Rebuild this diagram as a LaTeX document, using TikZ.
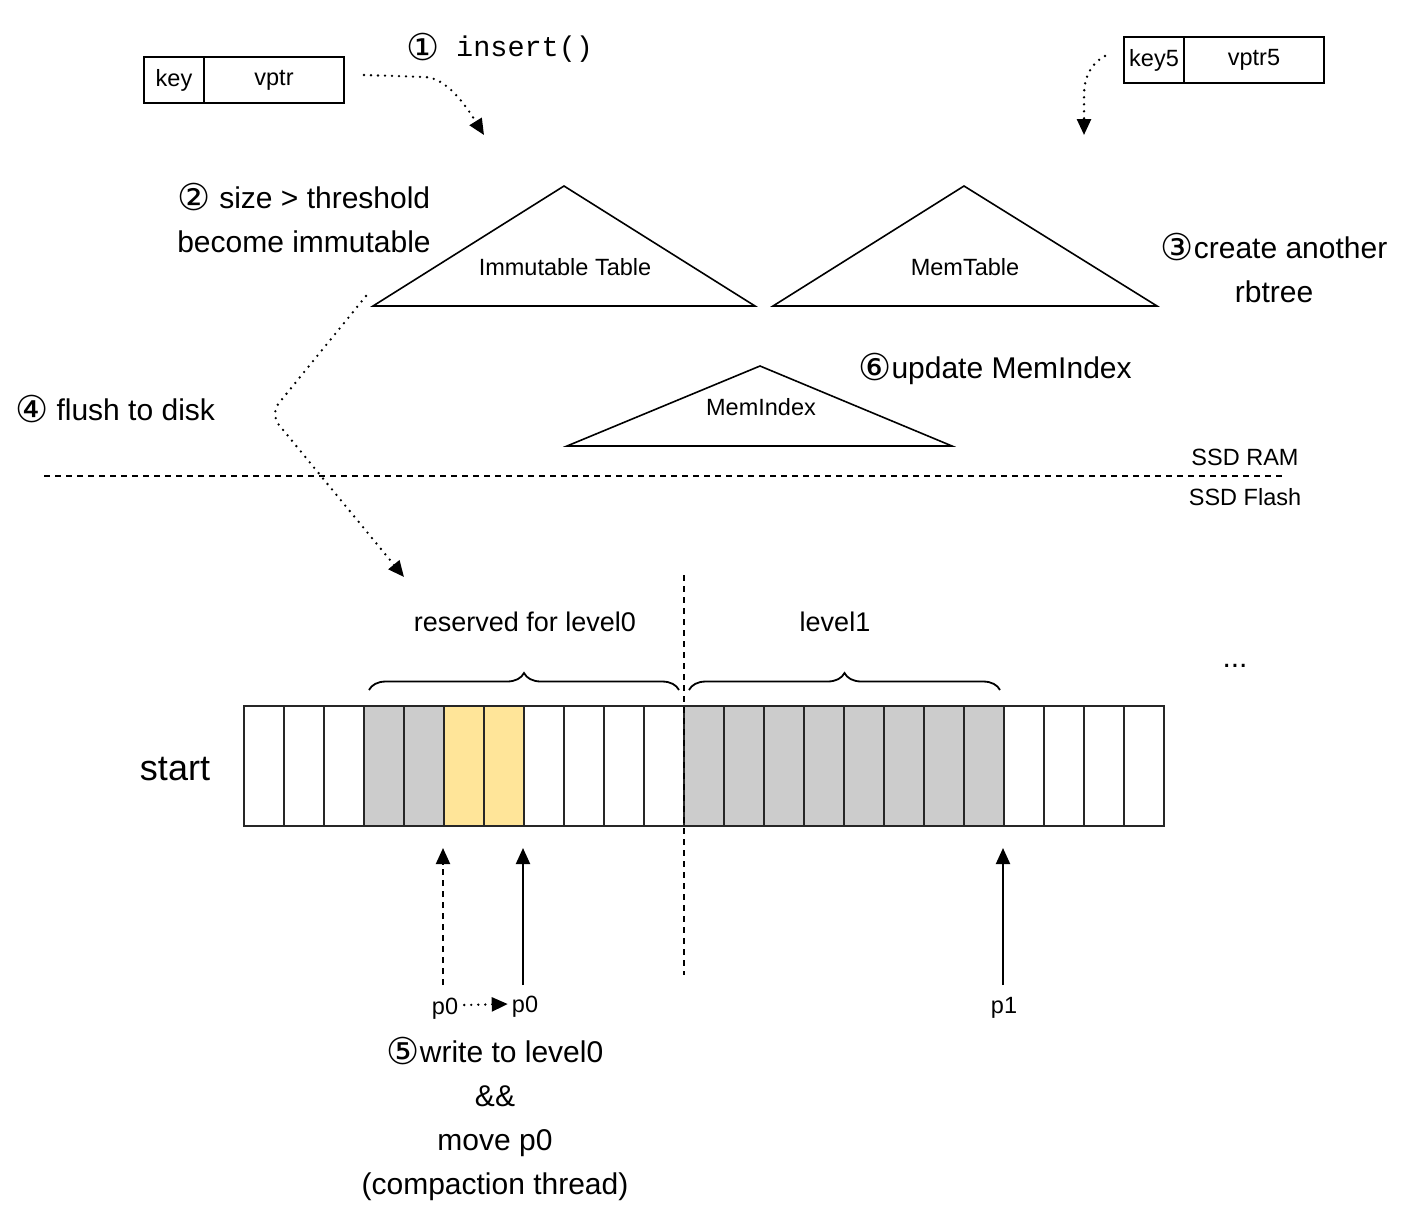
\documentclass[tikz,border=0pt]{standalone}
\usepackage{fontspec}
\setmainfont{Liberation Sans}
\setmonofont{Liberation Mono}
\newfontfamily\circfont{DejaVu Sans}
\newcommand\cnum[1]{{\circfont\fontsize{37}{44}\selectfont\raisebox{-0.06em}{#1}}}
\usetikzlibrary{arrows.meta,decorations.pathreplacing,calc}
\definecolor{cellgray}{HTML}{CCCCCC}
\definecolor{cellyellow}{HTML}{FFE599}
\begin{document}
\begin{tikzpicture}[x=1pt,y=-1pt,
  every node/.style={font=\fontsize{23.5}{28}\selectfont,inner sep=0pt},
  big/.style={font=\fontsize{30}{44}\selectfont,align=center},
  huge/.style={font=\fontsize{36}{40}\selectfont},
  shp/.style={draw=black,line width=1.6pt},
  boxcell/.style={draw=black,line width=1.6pt,minimum height=46pt,inner sep=0pt,outer sep=0pt},
  cell/.style={draw=black!85,line width=1.8pt,minimum width=40pt,minimum height=120pt,inner sep=0pt,outer sep=0pt},
  dotline/.style={line width=2.6pt,dash pattern=on 0pt off 7pt,line cap=round},
  dashline/.style={line width=1.7pt,dash pattern=on 6pt off 5pt},
  tip/.style={-{Triangle[length=16pt,width=14pt]}},
  brc/.style={decorate,decoration={brace,amplitude=17pt},line width=1.8pt},
]
\useasboundingbox (0,0) rectangle (1402,1219);

% key / vptr boxes
\node[boxcell,minimum width=60pt] (key) at (174,80) {key};
\node[boxcell,minimum width=140pt] (vptr) at (274,80) {vptr};
\node[boxcell,minimum width=60pt] (key5) at (1154,60) {key5};
\node[boxcell,minimum width=140pt] (vptr5) at (1254,60) {vptr5};

% step 1 label
\node[big] (c1) at (423,47) {\cnum{①}};
\node[big,anchor=west] (ins) at (456,49) {\ttfamily\fontsize{28.5}{30}\selectfont insert()};

% triangles
\draw[shp] (373,306) -- (564,186) -- (755,306) -- cycle;
\node (immt) at (565,267) {Immutable Table};
\draw[shp] (773,306) -- (964,186) -- (1157,306) -- cycle;
\node (memt) at (965,267) {MemTable};
\draw[shp] (567,446) -- (760,366) -- (952,446) -- cycle;
\node (memi) at (761,407) {MemIndex};

% text labels
\node[big] (s2) at (304,218) {\cnum{②} size > threshold\\become immutable};
\node[big] (s3) at (1274,268) {\cnum{③}create another\\rbtree};
\node[big] (s6) at (995,369) {\cnum{⑥}update MemIndex};
\node[big] (s4) at (115,409) {\cnum{④} flush to disk};
\node (ram) at (1245,457) {SSD RAM};
\node (flash) at (1245,497) {SSD Flash};
\node[font=\fontsize{27}{30}\selectfont] (res) at (525,622) {reserved for level0};
\node[font=\fontsize{27}{30}\selectfont] (lv1) at (835,622) {level1};
\node[big] (dots) at (1235,666) {...};
\node[huge] (start) at (175,769) {start};
\node (p0a) at (445,1009) {p0};
\node (p0b) at (525,1007) {p0};
\node (p1) at (1004,1008) {p1};
\node[big] (s5) at (495,1119) {\cnum{⑤}write to level0\\\&\&\\move p0\\(compaction thread)};

% RAM / Flash separator
\coordinate (sepL) at (44,476);
\coordinate (sepR) at (1285,476);
\draw[dashline] (sepL) -- (sepR);

% cells
\foreach \i in {0,1,2,7,8,9,10,19,20,21,22}
  \node[cell,fill=white] (cell\i) at (264+40*\i,766) {};
\foreach \i in {3,4,11,12,13,14,15,16,17,18}
  \node[cell,fill=cellgray] (cell\i) at (264+40*\i,766) {};
\foreach \i in {5,6}
  \node[cell,fill=cellyellow] (cell\i) at (264+40*\i,766) {};

% level divider
\coordinate (divT) at (684,575);
\coordinate (divB) at (684,975);
\draw[dashline] (divT) -- (divB);

% braces
\coordinate (b0L) at (369,690);
\coordinate (b0R) at (679,690);
\coordinate (b1L) at (689,690);
\coordinate (b1R) at (1000,690);
\draw[brc] (b0L) -- (b0R);
\draw[brc] (b1L) -- (b1R);

% step 1 arrow
\coordinate (insS) at (364,75);
\coordinate (insE) at (484,135);
\draw[dotline,tip] (insS) -- (425,77) .. controls (447,78) and (466,106) .. (insE);

% key5 arrow
\coordinate (k5S) at (1105,56);
\coordinate (k5E) at (1084,135);
\draw[dotline,tip] (k5S) .. controls (1090,64) and (1084,78) .. (1084,96) -- (k5E);

% flush arrow
\coordinate (flS) at (366,296);
\coordinate (flM) at (270,414);
\coordinate (flE) at (404,577);
\draw[dotline,tip,rounded corners=14pt] (flS) -- (flM) -- (flE);

% pointer arrows
\coordinate (a0S) at (443,985);
\coordinate (a0E) at (443,848);
\draw[dashline,line width=2pt,tip] (a0S) -- (a0E);
\coordinate (a1S) at (523,985);
\coordinate (a1E) at (523,848);
\draw[line width=2pt,tip] (a1S) -- (a1E);
\coordinate (a2S) at (1003,985);
\coordinate (a2E) at (1003,848);
\draw[line width=2pt,tip] (a2S) -- (a2E);

% p0 move arrow
\draw[dotline,tip] ($(p0a.east)+(6,-4)$) -- ($(p0b.west)+(-4,-3)$);
\end{tikzpicture}
\end{document}
